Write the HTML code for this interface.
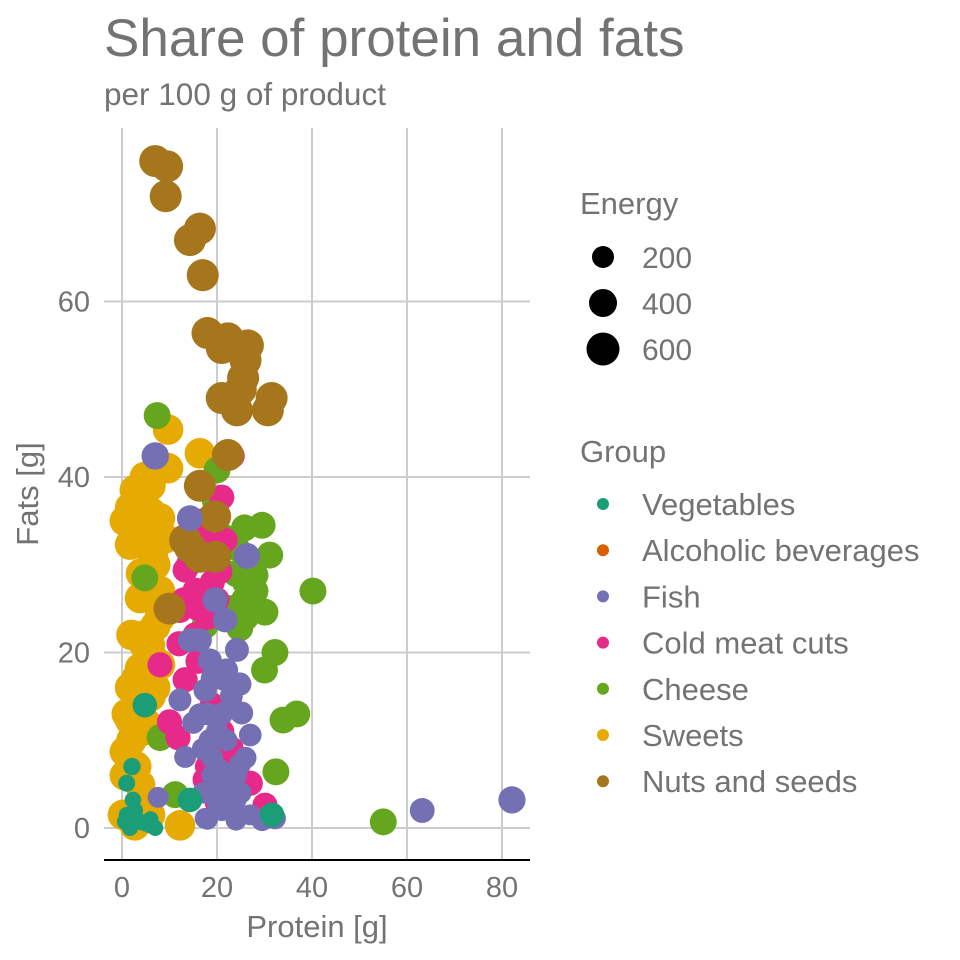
<!DOCTYPE html>
<html><head><meta charset="utf-8"><style>
body{margin:0;background:#fff}
svg{display:block;font-family:"Liberation Sans",sans-serif}
</style></head><body>
<svg id="chart" width="960" height="960">
<text x="104" y="56" font-size="53" fill="#737373">Share of protein and fats</text>
<text x="104" y="105" font-size="31.5" fill="#737373">per 100 g of product</text>
<g id="grid"></g>
<g id="points"></g>
<line x1="104" x2="530" y1="860" y2="860" stroke="#000" stroke-width="2"/>
<g id="ticks"></g>
<text x="317" y="937" font-size="31" fill="#737373" text-anchor="middle">Protein [g]</text>
<text transform="translate(38,494) rotate(-90)" font-size="31" fill="#737373" text-anchor="middle">Fats [g]</text>
<g id="legend"></g>
</svg>
<script>
const xTicks=[0,20,40,60,80];
const yTicks=[0,20,40,60];
const groups=["Vegetables","Alcoholic beverages","Fish","Cold meat cuts","Cheese","Sweets","Nuts and seeds"];
const colors=["#1B9E77","#D95F02","#7570B3","#E7298A","#66A61E","#E6AB02","#A6761D"];
const energyLegend=[200,400,600];
const sweetsProtein=[9.7,16.4,9.7,4.8,2.7,1.7,0.6,8,1.7,5.9,6.5,3.8,7.6,7,5.9,8,3.8,1.7,4.8,1.7,0.6,0.6,3.8,0.2,2.7,12.2,5.9,8,4.8,3,6,5,7,4,6,8,2,5,7,3,6,1,4,2,9,6,5,3,7,5,2];
const sweetsFat=[45.4,42.7,41,40,38.5,36.5,35,35.3,32.3,33,31,26.2,25.4,23,20.8,18.6,18.2,16,14.6,12.3,8.7,6,4.9,1.5,0.3,0.3,1.5,27,20.8,37,36,34,30,29,28,24,22,22,19,17,15,13,11,10,33,39,12,7,16,3,1];
const cheeseProtein=[7.4,29.5,25.8,31.1,28,25.8,30.1,40.2,24.8,32.2,30,33.9,36.8,32.4,55,4.8,8,11.2,17.5,19.6,20,27,24,26,22,23,28,26,24];
const cheeseFat=[47,34.5,34.2,31.1,28.8,26,24.6,27,22.8,20,18,12.3,13,6.4,0.7,28.5,10.3,3.8,23.1,37.4,40.8,30,32,28,33,25,27,24,29];
const meatProtein=[23.2,21,13.3,20.6,15.4,12.2,15.4,8,13.3,10,11.8,18.5,22.7,27,30.1,17.5,21.7,15,17,13,19,16,14,18,20,12,16,19,21,14,17,23,24,18,20];
const meatFat=[42.4,37.7,29.4,29.2,27.1,24.8,22,18.6,16.9,12.1,10.3,9.1,8,5.1,2.6,5.5,32.8,31,33,26,28,25,30,24,26,21,19,14,11,32,35,9,4,7,3];
const fishProtein=[7,14.3,26.3,19.6,21.7,14.3,18.5,24.2,21.7,24.8,17.5,12.2,16.4,25.2,27,18.5,13.3,20.6,24.8,19.6,24,17.5,24,29.5,32.2,63.2,82.1,7.6,16.4,19,22,18,21,23,20,17,19,22,25,21,18,23,20,26,15,22,19,17,24,27];
const fishFat=[42.4,35.3,31,26,23.7,21.4,19.1,20.3,16.9,16.4,15.7,14.6,12.9,13.1,10.6,10,8.1,6.6,7.2,3.8,3.2,1.1,0.9,0.9,1.1,2,3.2,3.5,21.4,17,18,13,13,15,11,9,6,5,4,2,1,2,3,8,12,10,8,4,6,1.5];
const fishEnergy=[380,330,330,300,280,260,260,260,240,240,240,230,230,230,220,220,200,200,200,180,180,170,170,200,200,290,370,170,260,240,240,220,220,230,210,200,190,190,190,180,170,170,180,200,210,200,200,180,190,170];
const nutsProtein=[7,9.5,9.2,14.3,16.4,17,18,22.3,21,26.5,26,25.5,25,21,24.2,30.7,31.5,22.3,16.4,19.6,13.3,16.4,19.6,10,14.3];
const nutsFat=[76,75.4,72,67,68.3,63,56.4,55.8,54.7,55,53.3,51.3,50,49,47.6,47.6,49,42.5,39,35.5,32.8,30.9,30.9,25,32];
const vegProtein=[4.8,2.1,1,2.3,14.3,31.6,0.6,1.7,3.8,5.9,7,2.7,3,5,1,6];
const vegFat=[14,7,5.1,3.2,3.2,1.5,0.7,0,0.7,0.3,0,2,1,0.5,1.5,1];
const vegEnergy=[280,80,70,60,280,280,50,50,60,50,50,60,60,50,50,50];
const series=[
 {g:5,x:sweetsProtein,y:sweetsFat,e:500},
 {g:4,x:cheeseProtein,y:cheeseFat,e:360},
 {g:3,x:meatProtein,y:meatFat,e:300},
 {g:6,x:nutsProtein,y:nutsFat,e:560},
 {g:2,x:fishProtein,y:fishFat,e:fishEnergy},
 {g:0,x:vegProtein,y:vegFat,e:vegEnergy}
];
const NS="http://www.w3.org/2000/svg";
const sx=v=>122+v*4.75;
const sy=v=>828-v*8.775;
const sr=e=>Math.sqrt(45.5+0.3775*e);
function mk(tag,attrs,parent){const el=document.createElementNS(NS,tag);for(const k in attrs)el.setAttribute(k,attrs[k]);parent.appendChild(el);return el;}
const grid=document.getElementById('grid'),ticks=document.getElementById('ticks'),pts=document.getElementById('points'),leg=document.getElementById('legend');
xTicks.forEach(t=>{
 const l=mk('line',{x1:sx(t),x2:sx(t),y1:128,y2:860,stroke:'#cccccc','stroke-width':2},grid);
 
 
 const tx=mk('text',{x:sx(t),y:897,'font-size':29,fill:'#737373','text-anchor':'middle'},ticks);
 tx.textContent=t;
 
 
});
yTicks.forEach(t=>{
 const l=mk('line',{x1:104,x2:530,y1:sy(t),y2:sy(t),stroke:'#cccccc','stroke-width':2},grid);
 
 
 const tx=mk('text',{x:90,y:sy(t)+10,'font-size':29,fill:'#737373','text-anchor':'end'},ticks);
 tx.textContent=t;
 
 
});
series.forEach(s=>{
 s.x.forEach((xv,i)=>{
  const e=Array.isArray(s.e)?s.e[i]:s.e;
  const c=mk('circle',{cx:sx(xv),cy:sy(s.y[i]),r:sr(e),fill:colors[s.g]},pts);
  
  
 });
});
const et=mk('text',{x:580,y:214,'font-size':31,fill:'#737373'},leg);
et.textContent='Energy';


energyLegend.forEach((v,i)=>{
 const y=257+i*46;
 const c=mk('circle',{cx:603,cy:y,r:sr(v),fill:'#000'},leg);
 
 
 const t=mk('text',{x:642,y:y+11,'font-size':30,fill:'#737373'},leg);
 t.textContent=v;
 
 
});
const gt=mk('text',{x:580,y:462,'font-size':31,fill:'#737373'},leg);
gt.textContent='Group';


groups.forEach((g,i)=>{
 const y=504+i*46.2;
 const c=mk('circle',{cx:603,cy:y,r:6,fill:colors[i]},leg);
 
 
 const t=mk('text',{x:642,y:y+11,'font-size':31,fill:'#737373'},leg);
 t.textContent=g;
 
 
});
</script>
</body></html>
